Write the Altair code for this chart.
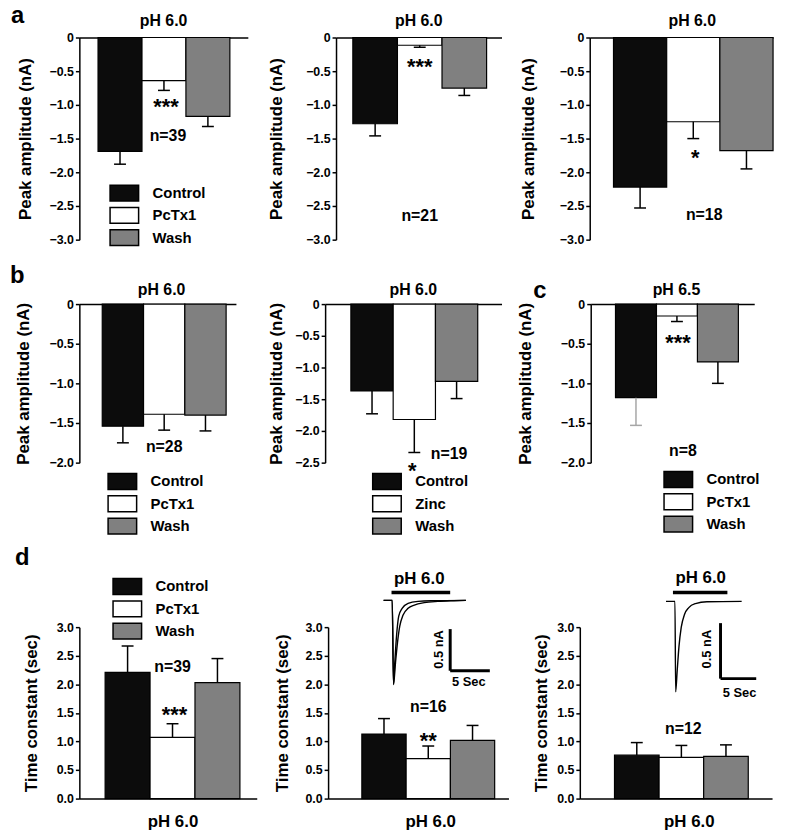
import altair as alt
import pandas as pd

FONT = "Liberation Sans"
BLACK = "#0c0c0c"
GRAY = "#808080"

CONDS = ["Control", "PcTx1", "Wash"]
CONDS_ZN = ["Control", "Zinc", "Wash"]

# ---- data: peak amplitude (nA) / time constant (sec): means and SEM ----
a1_mean = [-1.69, -0.64, -1.17]; a1_sem = [0.19, 0.145, 0.15]
a2_mean = [-1.28, -0.115, -0.75]; a2_sem = [0.18, 0.03, 0.11]
a3_mean = [-2.22, -1.25, -1.68]; a3_sem = [0.31, 0.25, 0.27]
b1_mean = [-1.54, -1.39, -1.40]; b1_sem = [0.21, 0.20, 0.20]
b2_mean = [-1.37, -1.82, -1.22]; b2_sem = [0.36, 0.52, 0.27]
c_mean = [-1.18, -0.15, -0.73]; c_sem = [0.35, 0.07, 0.27]
d1_mean = [2.21, 1.07, 2.03]; d1_sem = [0.46, 0.24, 0.42]
d2_mean = [1.13, 0.70, 1.02]; d2_sem = [0.27, 0.22, 0.26]
d3_mean = [0.76, 0.72, 0.74]; d3_sem = [0.22, 0.21, 0.20]

# ---- annotations: (text, bar, y value, dx) ----
a1_notes = [("***", "PcTx1", -0.96, 2), ("n=39", "PcTx1", -1.46, 4)]
a2_notes = [("***", "PcTx1", -0.37, 0), ("n=21", "PcTx1", -2.65, 0)]
a3_notes = [("*", "PcTx1", -1.71, 2), ("n=18", "PcTx1", -2.63, 11)]
b1_notes = [("n=28", "PcTx1", -1.80, 0)]
b2_notes = [("*", "Zinc", -2.55, -2), ("n=19", "Zinc", -2.37, 35)]
c_notes = [("***", "PcTx1", -0.43, 1), ("n=8", "PcTx1", -1.85, 6)]
d1_notes = [("n=39", "PcTx1", 2.30, 0), ("***", "PcTx1", 1.54, 2)]
d2_notes = [("n=16", "PcTx1", 1.60, 0), ("**", "PcTx1", 1.10, 0)]
d3_notes = [("n=12", "PcTx1", 1.21, 2)]

# ---- example current traces (time s, current nA) ----
d2_t1 = [0, 1.09, 1.25, 1.5, 1.75, 2.04, 2.46, 3.09, 3.88, 5.13, 6.84, 8.88, 10.38]
d2_i1 = [0, 0, -1.01, -0.75, -0.51, -0.31, -0.175, -0.095, -0.056, -0.027, -0.012, -0.004, 0]
d2_t2 = [0, 1.09, 1.25, 1.41, 1.63, 1.91, 2.34, 3.09, 4.34, 6.0, 10.38]
d2_i2 = [0, 0, -1.01, -0.75, -0.43, -0.19, -0.095, -0.036, -0.012, -0.004, 0]
d3_t = [0, 1.25, 1.35, 1.57, 1.81, 2.13, 2.6, 3.19, 4.12, 5.74, 10.6]
d3_i = [0, 0, -0.815, -0.62, -0.41, -0.235, -0.116, -0.056, -0.02, -0.003, 0]

# inset annotation geometry in trace units (s, nA)
d2_marks = {"ph": (1.0, 8.4, 0.095), "ph_txt": (4.5, 0.26), "vbar": (8.4, -0.345, -0.845),
            "hbar": (8.4, 13.4, -0.845), "na_txt": (7.0, -0.59), "sec_txt": (10.75, -0.98)}
d3_marks = {"ph": (0.97, 8.6, 0.08), "ph_txt": (4.86, 0.21), "vbar": (7.64, -0.196, -0.696),
            "hbar": (7.64, 12.64, -0.696), "na_txt": (5.7, -0.43), "sec_txt": (10.3, -0.83)}

PATH = "M-1.8,-1H1.8V1H-1.8Z"
NEG3 = [-3.0, -2.5, -2.0, -1.5, -1.0, -0.5, 0]
NEG25 = [-2.5, -2.0, -1.5, -1.0, -0.5, 0]
NEG2 = [-2.0, -1.5, -1.0, -0.5, 0]
POS3 = [0, 0.5, 1.0, 1.5, 2.0, 2.5, 3.0]

AXSTYLE = dict(domainColor="black", domainWidth=1.5, tickColor="black", tickWidth=1.5, tickSize=4,
               labelFont=FONT, labelFontSize=12.5, labelFontWeight="bold", labelColor="black",
               labelPadding=2, titleFont=FONT, titleFontSize=17, titleFontWeight="bold",
               titleColor="black", grid=False)


def inset(traces, mk, xr, yr):
    xs = alt.Scale(domain=[0, 10], range=xr, nice=False, zero=False)
    ys = alt.Scale(domain=[-1, 0], range=yr, nice=False, zero=False)
    rows = []
    for k, (t, i) in enumerate(traces):
        for j, (tt, ii) in enumerate(zip(t, i)):
            rows.append({"trace": k, "t": tt, "i": ii, "o": j})
    line = alt.Chart(pd.DataFrame(rows)).mark_line(
        color="black", strokeWidth=1.4, interpolate="monotone").encode(
        x=alt.X("t:Q", scale=xs, axis=None), y=alt.Y("i:Q", scale=ys, axis=None),
        detail="trace:N", order="o:Q")
    ph = mk["ph"]
    phbar = alt.Chart(pd.DataFrame({"t0": [ph[0]], "t1": [ph[1]], "i": [ph[2]]})).mark_rule(
        color="black", strokeWidth=3.5).encode(
        x=alt.X("t0:Q", scale=xs, axis=None), x2="t1:Q", y=alt.Y("i:Q", scale=ys, axis=None))
    v, h = mk["vbar"], mk["hbar"]
    sb = pd.DataFrame({"t0": [v[0], h[0]], "t1": [v[0], h[1]], "i0": [v[1], h[2]], "i1": [v[2], h[2]]})
    bars = alt.Chart(sb).mark_rule(color="black", strokeWidth=3).encode(
        x=alt.X("t0:Q", scale=xs, axis=None), x2="t1:Q",
        y=alt.Y("i0:Q", scale=ys, axis=None), y2="i1:Q")
    def txt(s, pos, size, angle=0):
        return alt.Chart(pd.DataFrame({"t": [pos[0]], "i": [pos[1]], "s": [s]})).mark_text(
            fontSize=size, fontWeight="bold", font=FONT, color="black", angle=angle,
            baseline="middle").encode(
            x=alt.X("t:Q", scale=xs, axis=None), y=alt.Y("i:Q", scale=ys, axis=None), text="s:N")
    return alt.layer(line, phbar, bars,
                     txt("pH 6.0", mk["ph_txt"], 17),
                     txt("0.5 nA", mk["na_txt"], 13, 270),
                     txt("5 Sec", mk["sec_txt"], 13))


def panel(cats, mean, sem, notes, cfg):
    errc = cfg.get("errc", ["black", "black", "black"])
    df = pd.DataFrame({"cond": cats, "mean": mean, "sem": sem, "ec": errc})
    df["end"] = [m - s if m < 0 else m + s for m, s in zip(mean, sem)]
    xs = alt.Scale(domain=cats, paddingInner=0, paddingOuter=cfg["po"], align=cfg["al"])
    ys = alt.Scale(domain=cfg["ydom"], nice=False, zero=False)
    neg = cfg["ydom"][0] < 0
    if neg:
        xaxis = alt.Axis(orient="top", labels=False, ticks=False, title=None, **AXSTYLE)
        lab = "datum.value == 0 ? '0' : format(datum.value, '.1f')"
        ytitle = "Peak amplitude (nA)"
    else:
        xaxis = alt.Axis(orient="bottom", labels=False, ticks=False, title="pH 6.0",
                         titlePadding=15, titleX=cfg["xtx"], titleAlign="center", **AXSTYLE)
        lab = "format(datum.value, '.1f')"
        ytitle = "Time constant (sec)"
    yaxis = alt.Axis(values=cfg["ticks"], labelExpr=lab, title=ytitle, titlePadding=cfg["ytp"], **AXSTYLE)
    if cfg.get("leg"):
        lx, ly = cfg["leg"]
        legend = alt.Legend(title=None, orient="none", legendX=lx, legendY=ly, symbolType=PATH,
                            symbolSize=256, symbolStrokeColor="black", symbolStrokeWidth=1.5,
                            labelOffset=19.5, rowPadding=0.5, padding=0, symbolOpacity=1,
                            labelFont=FONT, labelFontSize=15, labelFontWeight="bold", labelColor="black")
    else:
        legend = None
    color = alt.Color("cond:N", scale=alt.Scale(domain=cats, range=[BLACK, "white", GRAY]), legend=legend)

    def X():
        return alt.X("cond:N", scale=xs, axis=xaxis)

    def Y(f):
        return alt.Y(f, scale=ys, axis=yaxis)

    base = alt.Chart(df)
    bars = base.mark_bar(stroke="black", strokeWidth=1.2, opacity=1).encode(
        x=X(), y=Y("mean:Q"), y2=alt.datum(0), color=color)
    err = base.mark_rule(strokeWidth=1.5).encode(
        x=X(), y=Y("mean:Q"), y2="end:Q",
        stroke=alt.Stroke("ec:N", scale=None, legend=None))
    cap = base.mark_tick(thickness=1.5, size=12, opacity=1).encode(
        x=X(), y=Y("end:Q"),
        fill=alt.Fill("ec:N", scale=None, legend=None))
    layers = [bars, err, cap]
    for txt, cat, yv, dx in notes:
        star = txt.startswith("*")
        layers.append(alt.Chart(pd.DataFrame({"cond": [cat], "y": [yv], "t": [txt]})).mark_text(
            fontSize=22 if star else 16, fontWeight="bold", font=FONT, color="black",
            dx=dx, dy=5 if star else 0, baseline="middle").encode(
            x=X(), y=Y("y:Q"), text="t:N"))
    if cfg.get("title"):
        layers.append(alt.Chart(pd.DataFrame({"t": [cfg["title"]]})).mark_text(
            fontSize=16, fontWeight="bold", font=FONT, align="center", baseline="bottom",
            color="black").encode(x=alt.value(cfg["w"] / 2 + cfg.get("tdx", 0)),
                                  y=alt.value(-cfg.get("toff", 8)), text="t:N"))
    if cfg.get("letter"):
        L, lx, ly = cfg["letter"]
        layers.append(alt.Chart(pd.DataFrame({"t": [L]})).mark_text(
            fontSize=24, fontWeight="bold", font=FONT, align="left", baseline="alphabetic",
            color="black").encode(x=alt.value(lx), y=alt.value(ly), text="t:N"))
    ch = alt.layer(*layers)
    if cfg.get("inset") is not None:
        ch = alt.layer(ch, cfg["inset"]).resolve_scale(x="independent", y="independent")
    return ch.properties(width=cfg["w"], height=cfg["h"])


HA, HB, HD = 204, 160, 173

a1 = panel(CONDS, a1_mean, a1_sem, a1_notes, dict(
    ydom=[-3, 0], ticks=NEG3, w=170, h=HA, po=0.417, al=0.51, ytp=14.8, title="pH 6.0", toff=9,
    leg=(36.4, 148), letter=("a", -69, -15)))
a2 = panel(CONDS, a2_mean, a2_sem, a2_notes, dict(
    ydom=[-3, 0], ticks=NEG3, w=167, h=HA, po=0.356, al=0.53, ytp=20.3, title="pH 6.0", toff=9))
a3 = panel(CONDS, a3_mean, a3_sem, a3_notes, dict(
    ydom=[-3, 0], ticks=NEG3, w=185, h=HA, po=0.2236, al=1.0, ytp=22.3, title="pH 6.0", toff=9, tdx=11))
b1 = panel(CONDS, b1_mean, b1_sem, b1_notes, dict(
    ydom=[-2, 0], ticks=NEG2, w=158, h=HB, po=0.396, al=0.70, ytp=16.3, title="pH 6.0", toff=6, tdx=4,
    leg=(34.4, 170), letter=("b", -70, -21)))
b2 = panel(CONDS_ZN, b2_mean, b2_sem, b2_notes, dict(
    ydom=[-2.5, 0], ticks=NEG25, w=178, h=HB, po=0.586, al=0.52, ytp=9.3, title="pH 6.0", toff=6,
    leg=(53.4, 170)))
cc = panel(CONDS, c_mean, c_sem, c_notes, dict(
    ydom=[-2, 0], ticks=NEG2, w=165, h=HB, po=0.496, al=0.61, ytp=26.3, title="pH 6.5", toff=6, tdx=4,
    leg=(79.4, 168), letter=("c", -58, -6), errc=["#a6a6a6", "black", "black"]))
d1 = panel(CONDS, d1_mean, d1_sem, d1_notes, dict(
    ydom=[0, 3], ticks=POS3, w=179, h=HD, po=0.474, al=0.605, ytp=16.3, xtx=94,
    leg=(39.4, -50), letter=("d", -65, -63)))
d2 = panel(CONDS, d2_mean, d2_sem, d2_notes, dict(
    ydom=[0, 3], ticks=POS3, w=182, h=HD, po=0.537, al=0.71, ytp=13.3, xtx=103,
    inset=inset([(d2_t1, d2_i1), (d2_t2, d2_i2)], d2_marks, [56, 136], [57, -27])))
d3 = panel(CONDS, d3_mean, d3_sem, d3_notes, dict(
    ydom=[0, 3], ticks=POS3, w=194, h=HD, po=0.656, al=0.593, ytp=6.3, xtx=110,
    inset=inset([(d3_t, d3_i)], d3_marks, [87, 159], [86, -26])))


def indep(c):
    return c.resolve_scale(x="independent", y="independent", color="independent").resolve_legend(
        color="independent")


row_a = indep(alt.hconcat(a1, a2, a3, spacing=89, bounds="flush"))
row_b = indep(alt.hconcat(b1, b2, cc, spacing=90, bounds="flush"))
row_d = indep(alt.hconcat(d1, d2, d3, spacing=72, bounds="flush"))
top = indep(alt.vconcat(row_a, row_b, spacing=16))
chart = indep(alt.vconcat(top, row_d, spacing=9)).properties(
    padding={"left": 2, "top": -8, "right": 5, "bottom": 5}
).configure_view(stroke=None).configure_axis(**AXSTYLE).configure_text(font=FONT)

chart.save("out.html", embed_options={"renderer": "svg", "actions": False})
